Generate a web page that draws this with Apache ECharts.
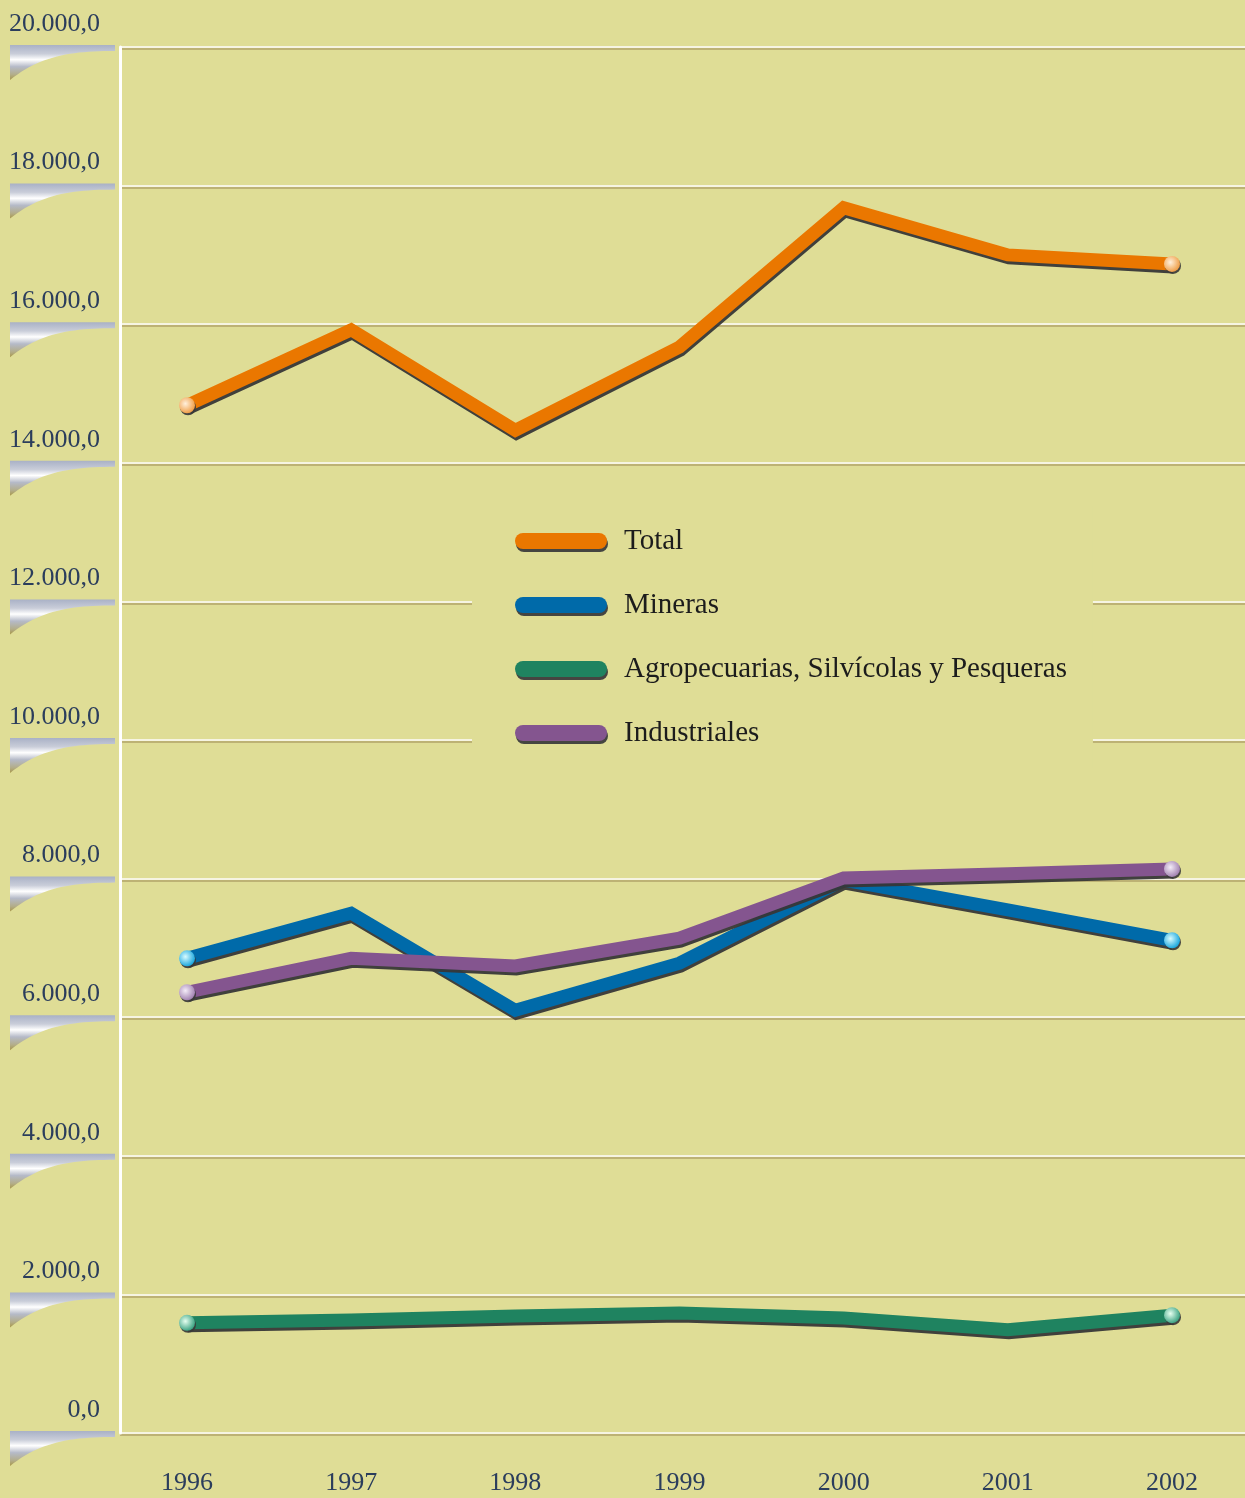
<!DOCTYPE html>
<html>
<head>
<meta charset="utf-8">
<script src="https://cdn.jsdelivr.net/npm/echarts@6/dist/echarts.min.js"></script>
<style>
  html, body { margin: 0; padding: 0; background: #dfdd96; }
  #chart { width: 1245px; height: 1498px; }
</style>
</head>
<body>
<div id="chart"></div>
<script>
// Data
const years = ['1996', '1997', '1998', '1999', '2000', '2001', '2002']
const total = [14830, 15920, 14470, 15670, 17680, 17000, 16870]
const mineras = [6850, 7500, 6100, 6780, 7980, 7550, 7110]
const agro = [1590, 1630, 1690, 1730, 1660, 1490, 1700]
const industriales = [6360, 6850, 6740, 7140, 8010, 8070, 8140]
const yTicks = [0, 2000, 4000, 6000, 8000, 10000, 12000, 14000, 16000, 18000, 20000]

const BG = '#dfdd96'
const LABEL = '#2b3d5c'

const COLORS = {
    total: '#ea7700',
    mineras: '#006aa9',
    agro: '#1f8360',
    industriales: '#84558f'
}
// end-cap bulbs (light centre -> edge)
const BULBS = {
    total: ['#fff0dc', '#f0a04a'],
    mineras: ['#d8fbff', '#1fa9df'],
    agro: ['#e6fff0', '#3fa585'],
    industriales: ['#f4ecf8', '#a485b3']
}

const fmt = v => String(v).replace(/\B(?=(\d{3})+(?!\d))/g, '.') + ',0'

function makeSeries(name, key, data) {
    const last = data.length - 1
    return {
        name,
        type: 'line',
        xAxisIndex: 1,
        yAxisIndex: 1,
        data,
        symbol: 'circle',
        symbolSize: (v, p) => (p.dataIndex === 0 || p.dataIndex === last) ? 16 : 0,
        showAllSymbol: true,
        lineStyle: {
            color: COLORS[key],
            width: 13,
            join: 'miter',
            cap: 'butt',
            shadowColor: 'rgba(55,55,55,0.95)',
            shadowBlur: 0,
            shadowOffsetX: 1,
            shadowOffsetY: 3
        },
        itemStyle: {
            color: new echarts.graphic.RadialGradient(0.4, 0.4, 0.6, [
                { offset: 0, color: BULBS[key][0] },
                { offset: 1, color: BULBS[key][1] }
            ]),
            borderWidth: 0,
            shadowColor: 'rgba(55,55,55,0.9)',
            shadowOffsetX: 1,
            shadowOffsetY: 2
        },
        emphasis: { disabled: true },
        animation: false
    }
}

const legendNames = ['Total', 'Mineras', 'Agropecuarias, Silvícolas y Pesqueras', 'Industriales']
const legendKeys = ['total', 'mineras', 'agro', 'industriales']

const chart = echarts.init(document.getElementById('chart'))

chart.setOption({
    backgroundColor: BG,
    animation: false,
    grid: [
        { left: 120, right: 0, top: 47, bottom: 65 },
        { left: 187, right: 73, top: 47, bottom: 65 }
    ],
    xAxis: [
        { gridIndex: 0, type: 'category', data: years, show: false },
        {
            gridIndex: 1,
            type: 'category',
            data: years,
            boundaryGap: false,
            axisLine: { show: false },
            axisTick: { show: false },
            axisLabel: {
                margin: 37,
                fontFamily: 'Liberation Serif',
                fontSize: 26,
                color: LABEL
            }
        }
    ],
    yAxis: [
        {
            gridIndex: 0,
            type: 'value',
            min: 0,
            max: 20000,
            interval: 2000,
            axisLine: { show: true, lineStyle: { color: '#ffffff', width: 3 } },
            axisTick: { show: false },
            axisLabel: {
                margin: 20,
                verticalAlign: 'bottom',
                padding: [0, 0, 10, 0],
                fontFamily: 'Liberation Serif',
                fontSize: 26,
                color: LABEL,
                formatter: fmt
            },
            splitLine: {
                lineStyle: {
                    color: '#f6f4e2',
                    width: 2,
                    shadowColor: '#bdb274',
                    shadowBlur: 0,
                    shadowOffsetY: 2
                }
            }
        },
        { gridIndex: 1, type: 'value', min: 0, max: 20000, show: false }
    ],
    legend: {
        orient: 'vertical',
        left: 472,
        top: 506,
        padding: [20, 26, 20, 43],
        backgroundColor: BG,
        itemWidth: 92,
        itemHeight: 16,
        itemGap: 34,
        selectedMode: false,
        icon: 'path://M8,0 H84 A8,8 0 0 1 84,16 H8 A8,8 0 0 1 8,0 Z',
        textStyle: {
            fontFamily: 'Liberation Serif',
            fontSize: 29,
            lineHeight: 30,
            color: '#1c1c1c',
            padding: [0, 0, 0, 12]
        },
        data: legendNames.map((n, i) => ({
            name: n,
            itemStyle: {
                color: COLORS[legendKeys[i]],
                borderWidth: 0,
                shadowColor: 'rgba(60,60,60,0.95)',
                shadowBlur: 0,
                shadowOffsetX: 1,
                shadowOffsetY: 3
            }
        }))
    },
    series: [
        makeSeries(legendNames[0], 'total', total),
        makeSeries(legendNames[1], 'mineras', mineras),
        makeSeries(legendNames[2], 'agro', agro),
        makeSeries(legendNames[3], 'industriales', industriales)
    ]
})

// silver curl ornaments under every y tick label
function curlPoints(y) {
    const pts = [[10, y - 2], [115, y - 2], [115, y + 4]]
    // cubic from (115,y+4) to (10,y+33)
    const p0 = [115, y + 4], p1 = [70, y + 4], p2 = [40, y + 9], p3 = [10, y + 33]
    for (let i = 1; i <= 24; i++) {
        const t = i / 24, u = 1 - t
        pts.push([
            u * u * u * p0[0] + 3 * u * u * t * p1[0] + 3 * u * t * t * p2[0] + t * t * t * p3[0],
            u * u * u * p0[1] + 3 * u * u * t * p1[1] + 3 * u * t * t * p2[1] + t * t * t * p3[1]
        ])
    }
    return pts
}
const curls = yTicks.map(v => {
    const y = chart.convertToPixel({ yAxisIndex: 0 }, v)
    return {
        type: 'polygon',
        silent: true,
        z: 10,
        shape: { points: curlPoints(y) },
        style: {
            fill: {
                type: 'linear', x: 0, y: 0, x2: 0, y2: 1,
                colorStops: [
                    { offset: 0, color: '#a9b1c6' },
                    { offset: 0.25, color: '#c9cdd9' },
                    { offset: 0.42, color: '#ffffff' },
                    { offset: 0.62, color: '#b5bac8' },
                    { offset: 0.85, color: '#b3ad88' },
                    { offset: 1, color: '#a8984a' }
                ]
            }
        }
    }
})
chart.setOption({ graphic: curls })
</script>
</body>
</html>
